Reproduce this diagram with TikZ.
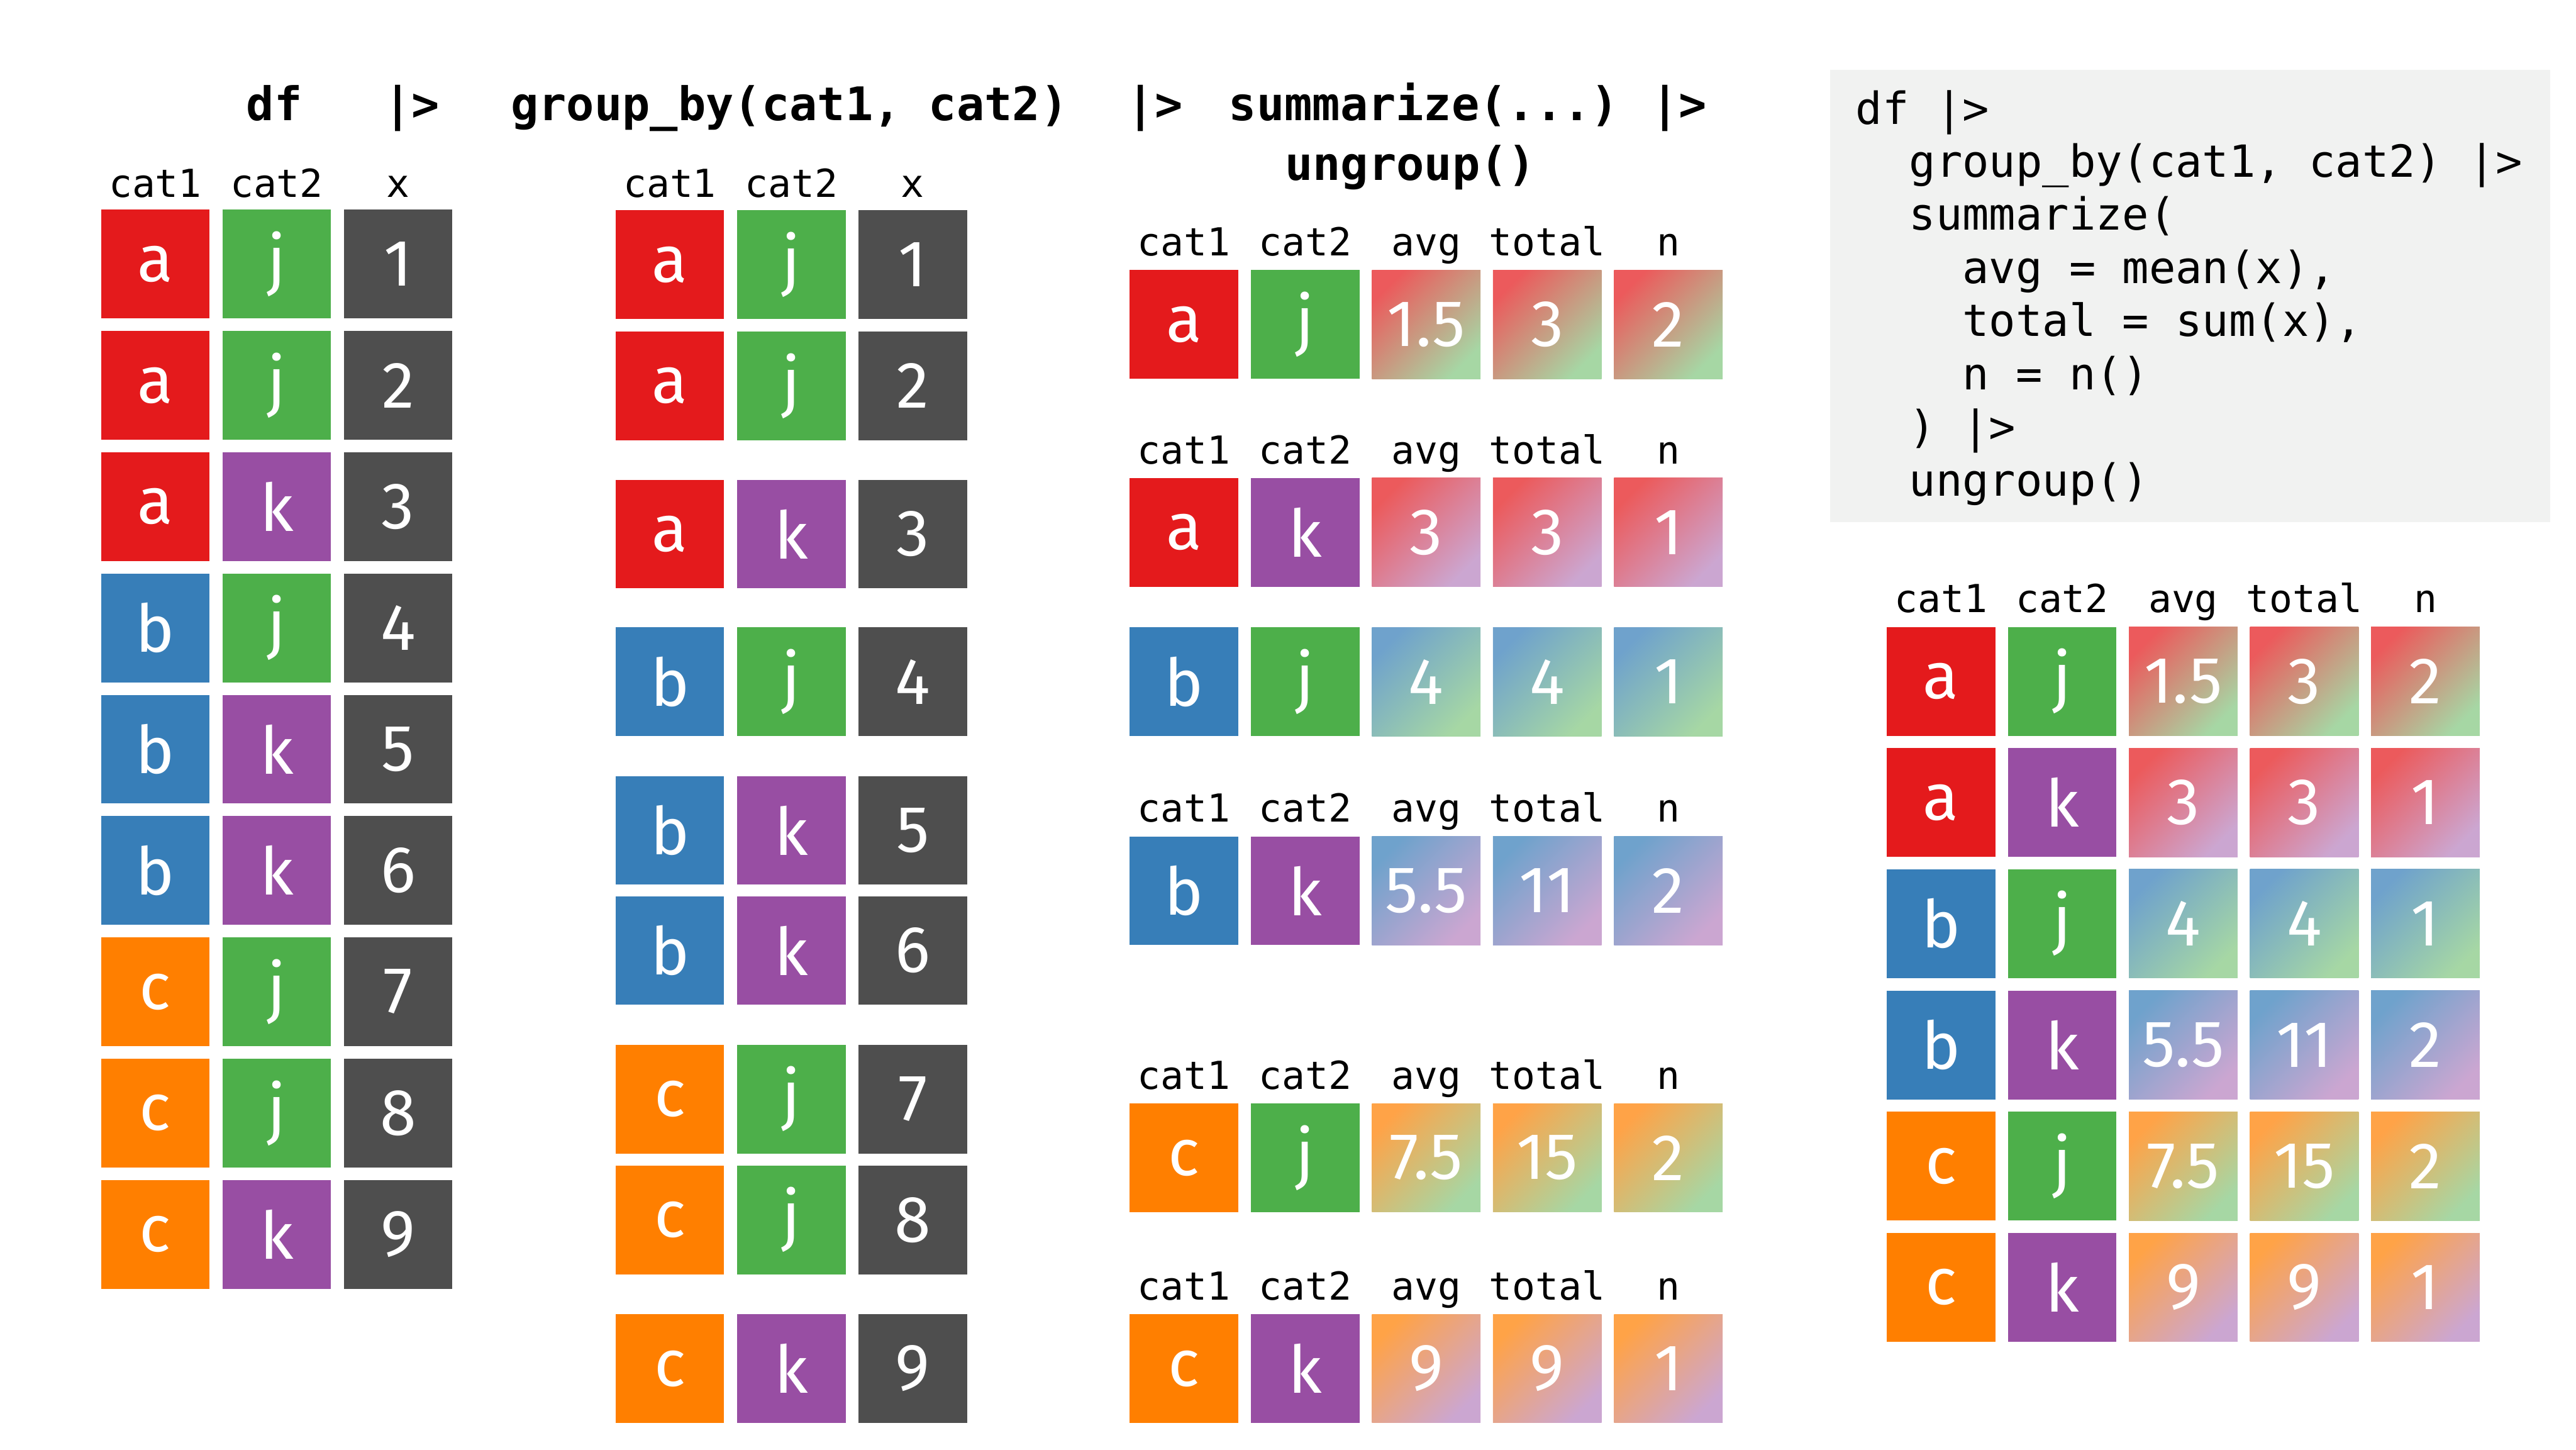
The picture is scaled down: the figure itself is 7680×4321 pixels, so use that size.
\documentclass[tikz,border=0pt]{standalone}
\usepackage{fontspec}
\newfontfamily\cellfont{Fira Sans}
\newfontfamily\monofont{DejaVu Sans Mono}
\definecolor{cola}{HTML}{E41A1C}
\definecolor{colb}{HTML}{377EB8}
\definecolor{colc}{HTML}{FF7F00}
\definecolor{colj}{HTML}{4DAF4A}
\definecolor{colk}{HTML}{984EA3}
\definecolor{colx}{HTML}{4E4E4E}
\definecolor{codebg}{HTML}{F1F2F1}
\colorlet{lta}{cola!72!white}
\colorlet{ltb}{colb!72!white}
\colorlet{ltc}{colc!72!white}
\colorlet{ltj}{colj!50!white}
\colorlet{ltk}{colk!50!white}
\tikzset{
  cellbox/.style={anchor=north west, minimum width=32.4pt, minimum height=32.4pt,
    inner sep=0pt, outer sep=0pt, text=white, font=\cellfont\fontsize{19.6}{22}\selectfont},
  grad/.style 2 args={top color=lt#1, bottom color=lt#2, shading angle=45},
  hdr/.style={anchor=base, inner sep=0pt, font=\monofont\fontsize{11.5}{13}\selectfont},
  ttl/.style={anchor=base, inner sep=0pt, font=\monofont\bfseries\fontsize{13.8}{16}\selectfont},
  codeline/.style={anchor=base west, inner sep=0pt, font=\monofont\fontsize{13.2}{15}\selectfont},
  codebox/.style={anchor=north west, fill=codebg, inner sep=0pt, minimum width=214.7pt, minimum height=134.8pt}
}
% name, x, y, cat1, cat2, value
\newcommand\threerow[6]{%
  \node[cellbox,fill=col#4] (#1c1) at (#2,#3) {#4};
  \node[cellbox,fill=col#5] (#1c2) at (#2+362,#3) {#5};
  \node[cellbox,fill=colx] (#1c3) at (#2+724,#3) {#6};
}
% name, x, baseline y
\newcommand\hdrthree[3]{%
  \node[hdr] (#1h1) at (#2+162,#3) {cat1};
  \node[hdr] (#1h2) at (#2+524,#3) {cat2};
  \node[hdr] (#1h3) at (#2+886,#3) {x};
}
% name, x, y, cat1, cat2, avg, total, n
\newcommand\fiverow[8]{%
  \node[cellbox,fill=col#4] (#1c1) at (#2,#3) {#4};
  \node[cellbox,fill=col#5] (#1c2) at (#2+361,#3) {#5};
  \node[cellbox,grad={#4}{#5}] (#1c3) at (#2+722,#3) {#6};
  \node[cellbox,grad={#4}{#5}] (#1c4) at (#2+1083,#3) {#7};
  \node[cellbox,grad={#4}{#5}] (#1c5) at (#2+1444,#3) {#8};
}
\newcommand\hdrfive[3]{%
  \node[hdr] (#1h1) at (#2+162,#3) {cat1};
  \node[hdr] (#1h2) at (#2+523,#3) {cat2};
  \node[hdr] (#1h3) at (#2+884,#3) {avg};
  \node[hdr] (#1h4) at (#2+1245,#3) {total};
  \node[hdr] (#1h5) at (#2+1606,#3) {n};
}
\begin{document}
\begin{tikzpicture}[x=0.1pt,y=-0.1pt]
\useasboundingbox (0,0) rectangle (7680,4321);

% titles
\node[ttl] (t1) at (818,360) {df};
\node[ttl] (p1) at (1228,360) {|>};
\node[ttl] (t2) at (2354,360) {group\_by(cat1, cat2)};
\node[ttl] (p2) at (3443,360) {|>};
\node[ttl] (t3) at (4245,360) {summarize(...)};
\node[ttl] (p3) at (5005,360) {|>};
\node[ttl] (t4) at (4205,538) {ungroup()};

% table 1
\hdrthree{A}{301}{587}
\threerow{A1}{301}{625}{a}{j}{1}
\threerow{A2}{301}{986.5}{a}{j}{2}
\threerow{A3}{301}{1348}{a}{k}{3}
\threerow{A4}{301}{1709.5}{b}{j}{4}
\threerow{A5}{301}{2071}{b}{k}{5}
\threerow{A6}{301}{2432.5}{b}{k}{6}
\threerow{A7}{301}{2794}{c}{j}{7}
\threerow{A8}{301}{3155.5}{c}{j}{8}
\threerow{A9}{301}{3517}{c}{k}{9}

% table 2
\hdrthree{B}{1835}{587}
\threerow{B1}{1835}{627}{a}{j}{1}
\threerow{B2}{1835}{988}{a}{j}{2}
\threerow{B3}{1835}{1430}{a}{k}{3}
\threerow{B4}{1835}{1870}{b}{j}{4}
\threerow{B5}{1835}{2313}{b}{k}{5}
\threerow{B6}{1835}{2671}{b}{k}{6}
\threerow{B7}{1835}{3114}{c}{j}{7}
\threerow{B8}{1835}{3474}{c}{j}{8}
\threerow{B9}{1835}{3917}{c}{k}{9}

% table 3
\hdrfive{C1}{3368}{762}
\fiverow{C1}{3368}{805}{a}{j}{1.5}{3}{2}
\hdrfive{C2}{3368}{1382}
\fiverow{C2}{3368}{1425}{a}{k}{3}{3}{1}
\fiverow{C3}{3368}{1870}{b}{j}{4}{4}{1}
\hdrfive{C4}{3368}{2450}
\fiverow{C4}{3368}{2493}{b}{k}{5.5}{11}{2}
\hdrfive{C5}{3368}{3246}
\fiverow{C5}{3368}{3289}{c}{j}{7.5}{15}{2}
\hdrfive{C6}{3368}{3874}
\fiverow{C6}{3368}{3917}{c}{k}{9}{9}{1}

% code
\node[codebox] (code) at (5454,207) {};
\node[codeline] (l1) at (5531,370) {df |>};
\node[codeline] (l2) at (5690,528) {group\_by(cat1, cat2) |>};
\node[codeline] (l3) at (5690,686) {summarize(};
\node[codeline] (l4) at (5849,844) {avg = mean(x),};
\node[codeline] (l5) at (5849,1003) {total = sum(x),};
\node[codeline] (l6) at (5849,1161) {n = n()};
\node[codeline] (l7) at (5690,1320) {) |>};
\node[codeline] (l8) at (5690,1478) {ungroup()};

% table 4
\hdrfive{D}{5625}{1826}
\fiverow{D1}{5625}{1869}{a}{j}{1.5}{3}{2}
\fiverow{D2}{5625}{2230}{a}{k}{3}{3}{1}
\fiverow{D3}{5625}{2591}{b}{j}{4}{4}{1}
\fiverow{D4}{5625}{2953}{b}{k}{5.5}{11}{2}
\fiverow{D5}{5625}{3314}{c}{j}{7.5}{15}{2}
\fiverow{D6}{5625}{3675}{c}{k}{9}{9}{1}
\end{tikzpicture}
\end{document}
